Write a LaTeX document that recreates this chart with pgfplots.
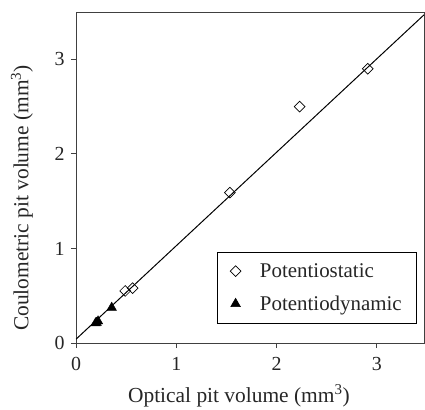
\documentclass[border=0pt]{standalone}
\usepackage{fontspec}
\setmainfont{Liberation Serif}
\usepackage{pgfplots}
\pgfplotsset{compat=1.18}

\begin{document}
\begin{tikzpicture}
\begin{axis}[
  scale only axis,
  width=348bp, height=331bp,
  xmin=0, xmax=3.47, ymin=0, ymax=3.5,
  xtick={0,1,2,3}, ytick={0,1,2,3},
  tick align=outside,
  xtick pos=bottom, ytick pos=left,
  major tick length=5bp,
  axis line style={black!75, line width=0.8pt},
  tick style={black!75, line width=0.8pt},
  tick label style={font=\fontsize{20}{22}\selectfont, text=black!85},
  xticklabel style={yshift=-6bp},
  yticklabel style={xshift=-3bp},
  label style={font=\fontsize{21.5}{24}\selectfont, text=black!85},
  /pgf/number format/assume math mode=true,
  xlabel={Optical pit volume (mm\textsuperscript{3})},
  ylabel={Coulometric pit volume (mm\textsuperscript{3})},
  xlabel style={at={(rel axis cs:0.468,0)}, anchor=center, yshift=-53bp},
  ylabel style={at={(rel axis cs:0,0.438)}, anchor=center, yshift=54bp},
  legend style={at={(rel axis cs:0.98,0.06)}, anchor=south east,
    font=\fontsize{21}{23}\selectfont, draw=black, line width=0.6pt,
    row sep=13bp, inner xsep=13bp, inner ysep=9bp,
    cells={anchor=west}, text=black!85,
    /tikz/every odd column/.append style={column sep=17bp}},
  legend cell align=left,
]
\addplot[only marks, mark=square, mark size=3.8bp, mark options={rotate=45, line width=0.7pt, fill=white}]
  coordinates {(2.91,2.90) (2.23,2.50) (1.535,1.59) (0.49,0.55) (0.565,0.58)};
\addlegendentry{Potentiostatic}
\addplot[only marks, mark=triangle*, mark size=5.5bp, black]
  coordinates {(0.356,0.374) (0.206,0.215) (0.22,0.23) (0.195,0.21)};
\addlegendentry{Potentiodynamic}
\addplot[black, line width=1pt, forget plot] coordinates {(0,0.04) (3.47,3.47)};
\coordinate (o) at (rel axis cs:0,0);
\end{axis}
\pgfresetboundingbox
\path[use as bounding box] (o) ++(-76bp,-67bp) rectangle ++(425bp,410bp);
\end{tikzpicture}
\end{document}
